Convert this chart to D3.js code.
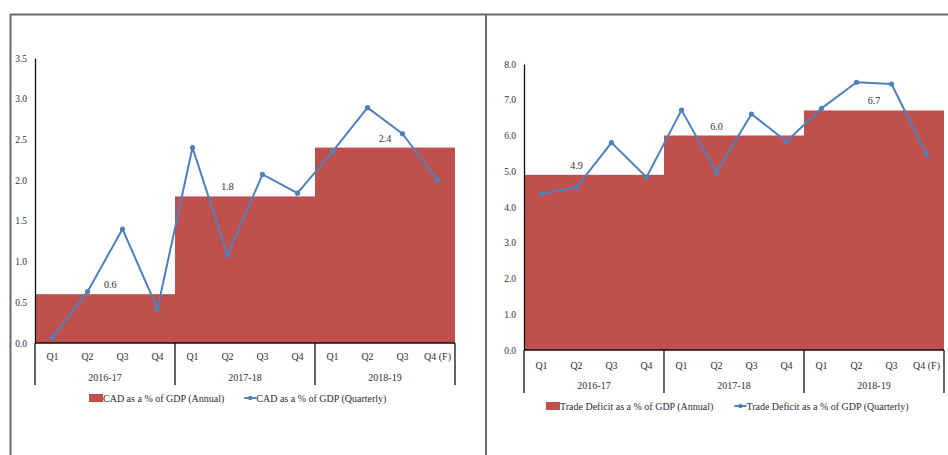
<!DOCTYPE html>
<html>
<head>
<meta charset="utf-8">
<script src="https://cdn.jsdelivr.net/npm/d3@7/dist/d3.min.js"></script>
<style>
  html, body { margin: 0; padding: 0; background: #fff; }
  svg { display: block; }
  text { font-family: "Liberation Serif", "Times New Roman", serif; fill: #2e2e38; }
</style>
</head>
<body>
<svg id="chart" width="948" height="455"></svg>
<script>
// Fiscal years and quarters shared by both panels
const years = ["2016-17", "2017-18", "2018-19"];
const quarters = ["Q1", "Q2", "Q3", "Q4", "Q1", "Q2", "Q3", "Q4", "Q1", "Q2", "Q3", "Q4 (F)"];

// Current account deficit, % of GDP
const cadAnnual = [0.6, 1.8, 2.4];
const cadQuarterly = [0.07, 0.63, 1.40, 0.42, 2.40, 1.08, 2.07, 1.84, 2.35, 2.89, 2.57, 2.00];
const cadTicks = [0.0, 0.5, 1.0, 1.5, 2.0, 2.5, 3.0, 3.5];

// Trade deficit, % of GDP
const tradeAnnual = [4.9, 6.0, 6.7];
const tradeQuarterly = [4.38, 4.55, 5.80, 4.83, 6.71, 4.97, 6.60, 5.83, 6.76, 7.49, 7.44, 5.47];
const tradeTicks = [0.0, 1.0, 2.0, 3.0, 4.0, 5.0, 6.0, 7.0, 8.0];

const svg = d3.select("#chart");
const RED = "#c0504d", BLUE = "#4f81bd";
const fmt = d3.format(".1f");

// Outer frame of the two-panel figure
const frame = svg.append("g").attr("stroke", "#6a6a6a").attr("stroke-width", 2).attr("fill", "none");
frame.append("line").attr("x1", 10).attr("x2", 948).attr("y1", 14.5).attr("y2", 14.5);
frame.append("line").attr("x1", 10.5).attr("x2", 10.5).attr("y1", 14).attr("y2", 455);
frame.append("line").attr("x1", 486).attr("x2", 486).attr("y1", 14).attr("y2", 455);

function drawPanel(cfg) {
  const g = svg.append("g");
  const idx = d3.range(quarters.length);
  const x = d3.scaleBand().domain(idx).range([cfg.left, cfg.right]).padding(0);
  const y = d3.scaleLinear().domain([0, cfg.max]).range([cfg.bottom, cfg.top]);
  const bw = x.bandwidth();

  // Annual level drawn as a step block spanning the four quarters of each year
  g.selectAll("rect.annual").data(cfg.annual).join("rect")
    .attr("class", "annual")
    .attr("x", (d, i) => x(i * 4))
    .attr("width", bw * 4)
    .attr("y", d => y(d))
    .attr("height", d => y(0) - y(d))
    .attr("fill", RED);

  // Annual value labels
  g.selectAll("text.alabel").data(cfg.annual).join("text")
    .attr("class", "alabel")
    .attr("x", (d, i) => x(i * 4) + cfg.labelSlot[i] * bw + bw / 2)
    .attr("y", d => y(d) - 6)
    .attr("text-anchor", "middle")
    .attr("font-size", 10)
    .text(d => fmt(d));

  // Quarterly line with markers
  const line = d3.line().x((d, i) => x(i) + bw / 2).y(d => y(d));
  g.append("path").datum(cfg.quarterly)
    .attr("d", line).attr("fill", "none")
    .attr("stroke", BLUE).attr("stroke-width", 2).attr("stroke-linejoin", "round");
  g.selectAll("circle.q").data(cfg.quarterly).join("circle")
    .attr("class", "q")
    .attr("cx", (d, i) => x(i) + bw / 2)
    .attr("cy", d => y(d))
    .attr("r", 2.6).attr("fill", BLUE);

  // Y axis: plain line with labels
  const yAxis = d3.axisLeft(y).tickValues(cfg.ticks).tickFormat(fmt).tickSize(0).tickPadding(8);
  const ya = g.append("g").attr("transform", `translate(${cfg.left},0)`).call(yAxis);
  ya.select(".domain").attr("stroke", "#111").attr("stroke-width", 1.3);
  ya.selectAll("text").attr("font-size", 9.5).attr("font-family", "Liberation Serif").attr("fill", "#3a3a40");

  // X axis: baseline, quarter labels and year separators
  g.append("line").attr("x1", cfg.left).attr("x2", cfg.right)
    .attr("y1", y(0)).attr("y2", y(0)).attr("stroke", "#111").attr("stroke-width", 1.5);
  g.selectAll("line.sep").data(d3.range(years.length + 1)).join("line")
    .attr("class", "sep")
    .attr("x1", i => i < years.length ? x(i * 4) : cfg.right)
    .attr("x2", i => i < years.length ? x(i * 4) : cfg.right)
    .attr("y1", y(0)).attr("y2", y(0) + cfg.sepLen)
    .attr("stroke", "#111").attr("stroke-width", 1.3);
  g.selectAll("text.qlab").data(quarters).join("text")
    .attr("class", "qlab")
    .attr("x", (d, i) => x(i) + bw / 2)
    .attr("y", y(0) + cfg.qDy)
    .attr("text-anchor", "middle").attr("font-size", 10)
    .text(d => d);
  g.selectAll("text.ylab").data(years).join("text")
    .attr("class", "ylab")
    .attr("x", (d, i) => x(i * 4) + bw * 2)
    .attr("y", y(0) + cfg.yDy)
    .attr("text-anchor", "middle").attr("font-size", 10)
    .text(d => d);

  // Legend
  const lg = g.append("g").attr("transform", `translate(${cfg.legendX},${cfg.legendY})`);
  lg.append("rect").attr("x", 0).attr("y", -4).attr("width", 14).attr("height", 8).attr("fill", RED);
  const t1 = lg.append("text").attr("x", 14).attr("y", 3.5).attr("font-size", 10).text(cfg.names[0]);
  const w1 = t1.node().getComputedTextLength();
  const lx = 14 + w1 + cfg.legendGap;
  lg.append("line").attr("x1", lx).attr("x2", lx + 12).attr("y1", 0).attr("y2", 0)
    .attr("stroke", BLUE).attr("stroke-width", 2);
  lg.append("circle").attr("cx", lx + 6).attr("cy", 0).attr("r", 2.2).attr("fill", BLUE);
  lg.append("text").attr("x", lx + 12).attr("y", 3.5).attr("font-size", 10).text(cfg.names[1]);
}

drawPanel({
  left: 35, right: 455, top: 58, bottom: 343, max: 3.5,
  annual: cadAnnual, quarterly: cadQuarterly, ticks: cadTicks,
  labelSlot: [1.65, 1, 1.5],
  sepLen: 42, qDy: 17, yDy: 38,
  legendX: 89, legendY: 398, legendGap: 20,
  names: ["CAD as a % of GDP (Annual)", "CAD as a % of GDP (Quarterly)"]
});

drawPanel({
  left: 524, right: 944, top: 64, bottom: 350, max: 8,
  annual: tradeAnnual, quarterly: tradeQuarterly, ticks: tradeTicks,
  labelSlot: [1, 1, 1.5],
  sepLen: 43, qDy: 19, yDy: 39,
  legendX: 546, legendY: 406, legendGap: 21,
  names: ["Trade Deficit as a % of GDP (Annual)", "Trade Deficit as a % of GDP (Quarterly)"]
});
</script>
</body>
</html>
